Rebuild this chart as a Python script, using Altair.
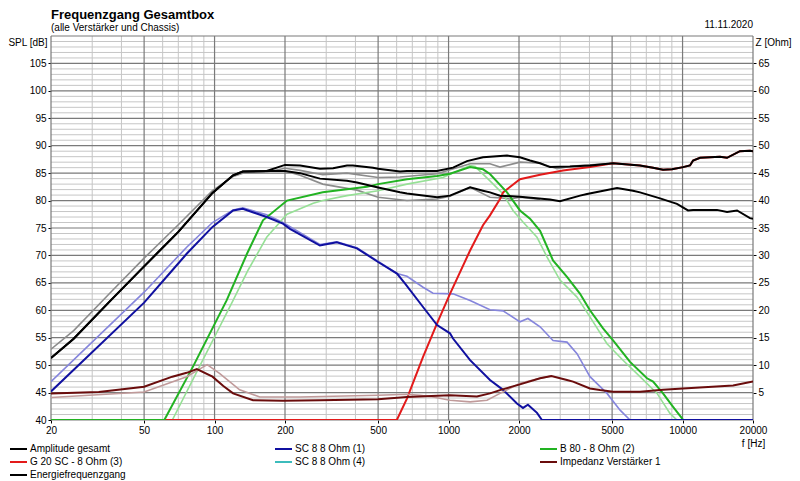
import altair as alt
import pandas as pd

TITLE = "Frequenzgang Gesamtbox"
SUBTITLE = "(alle Verstärker und Chassis)"
DATE = "11.11.2020"

SERIES = ["Amplitude gesamt", "SC 8 8 Ohm (1)", "B 80 - 8 Ohm (2)",
          "G 20 SC - 8 Ohm (3)", "SC 8 8 Ohm (4)", "Impedanz Verstärker 1",
          "Energiefrequenzgang"]
SERIES_COLORS = ["#000000", "#1010a0", "#22b322", "#e31a1a", "#3cbcbc", "#6a0c0c", "#000000"]

REF = ["ref amp", "ref ene", "ref sc", "ref b80", "ref imp"]
REF_COLORS = ["#8c8c8c", "#8c8c8c", "#8585dc", "#96e096", "#c09a9a"]

# frequency (Hz) / SPL (dB) or impedance (Ohm)
AMP_F = [20, 25, 36, 50, 70, 98, 120, 132, 167, 200, 232, 282, 321, 368, 390, 475, 500, 620, 664, 893,
         1045, 1199, 1403, 1503, 1778, 2019, 2229, 2461, 2712, 3304, 4020, 5047, 6577, 7482, 8250, 9020,
         10050, 10760, 11090, 11880, 14450, 15490, 17590, 19410, 20000]
AMP_V = [51.3, 54.8, 61.8, 68.0, 74.3, 81.4, 84.6, 85.3, 85.4, 86.5, 86.4, 85.8, 85.9, 86.4, 86.4, 86.0, 85.8, 85.3, 85.4, 85.4,
         86.0, 87.2, 87.9, 88.0, 88.2, 87.9, 87.3, 86.8, 86.1, 86.2, 86.4, 86.8, 86.4, 86.0, 85.6, 85.7,
         86.1, 86.4, 87.3, 87.8, 88.0, 87.8, 89.0, 89.1, 89.0]

ENE_F = [20, 25, 36, 50, 70, 98, 120, 132, 167, 200, 232, 282, 368, 406, 500, 620, 664, 893, 1014, 1236,
         1403, 1503, 1659, 2019, 2712, 2993, 3648, 3908, 5249, 6140, 6577, 8015, 8836, 9465, 10550, 11090,
         14030, 15490, 17100, 19410, 20000]
ENE_V = [51.3, 54.8, 61.8, 68.0, 74.3, 81.4, 84.6, 85.3, 85.4, 85.4, 85.0, 84.0, 83.6, 83.3, 82.4, 81.5, 81.3, 80.6, 80.9, 82.4,
         81.8, 81.5, 80.9, 80.7, 80.2, 79.9, 80.9, 81.2, 82.3, 81.8, 81.5, 80.4, 79.8, 79.4, 78.2, 78.3,
         78.3, 77.9, 78.2, 76.8, 76.7]

AMPREF_F = [20, 25, 36, 50, 70, 98, 120, 132, 167, 200, 232, 290, 368, 500, 620, 893, 1236, 1503, 1659,
            2019, 2461, 2906, 3404, 5047]
AMPREF_V = [52.9, 56.3, 63.3, 69.5, 75.6, 81.8, 84.4, 85.0, 85.2, 85.9, 85.5, 84.7, 85.0, 84.2, 84.3, 84.9, 86.7, 86.7, 86.1,
            87.0, 86.8, 85.8, 86.3, 86.8]

ENEREF_F = [200, 232, 290, 406, 500, 664, 893, 1014, 1236, 1503, 1659, 1832, 2019, 2461]
ENEREF_V = [85.4, 84.6, 83.0, 81.9, 80.6, 80.0, 80.3, 80.8, 82.4, 80.6, 80.5, 80.3, 80.6, 80.2]

SC_F = [20, 50, 66, 76, 98, 120, 132, 167, 196, 210, 282, 333, 406, 500, 602, 652, 778, 893, 1014, 1045,
        1236, 1503, 1710, 1960, 2080, 2184, 2388, 2507, 20000]
SC_V = [45.2, 61.4, 67.3, 70.3, 75.2, 78.2, 78.5, 77.0, 75.8, 74.85, 71.8, 72.4, 71.3, 68.8, 66.7, 64.85, 60.6, 57.3, 55.8, 54.85,
        50.9, 47.3, 45.5, 43.0, 42.2, 42.8, 41.3, 40.0, 40.0]

SCREF_F = [20, 50, 76, 98, 120, 132, 167, 196, 282, 333, 406, 602, 664, 778, 858, 1045, 1236, 1503, 1710, 2019,
           2184, 2461, 2795, 3207, 3540, 4020, 4755, 5408, 5963]
SCREF_V = [47.0, 63.3, 71.5, 76.0, 78.3, 78.7, 77.4, 76.0, 72.0, 72.5, 71.4, 66.7, 66.2, 64.2, 63.1, 63.0, 61.8, 60.1, 59.9, 57.9,
           58.5, 57.0, 54.5, 54.2, 52.1, 47.9, 44.85, 41.8, 40.0]

B80_F = [20, 61, 81.5, 112.6, 137.6, 161, 204, 290, 448, 500, 664, 893, 1014, 1236, 1403, 1503, 1778, 2019, 2229, 2461,
         2795, 3207, 3648, 4020, 4573, 5047, 5963, 7047, 7482, 8250, 9110, 9950, 10050, 20000]
B80_V = [40, 40, 50.0, 61.8, 70.3, 76.4, 80.0, 81.5, 82.5, 83.0, 83.9, 84.5, 84.9, 86.1, 85.7, 84.85, 81.5, 78.2, 76.7, 74.5,
         69.1, 66.1, 63.0, 60.0, 56.7, 54.5, 50.6, 47.6, 47.0, 44.85, 42.4, 40.3, 40.0, 40.0]

B80REF_F = [66, 120, 139, 167, 204, 264, 290, 368, 500, 664, 946, 1236, 1300, 1503, 1710, 1885, 2080, 2388, 2636, 2993,
            3540, 4020, 4755, 5565, 6577, 7781, 8836, 9465]
B80REF_V = [40, 61.8, 67.3, 73.3, 77.5, 79.5, 80.0, 80.9, 81.8, 83.0, 84.2, 86.4, 86.2, 83.6, 81.2, 78.2, 76.1, 73.3, 69.7, 65.5,
            62.4, 58.8, 53.9, 50.9, 47.9, 44.85, 41.2, 40.0]

G20_F = [20, 601, 664, 778, 893, 1014, 1236, 1403, 1503, 1659, 1710, 2019, 2461, 3084, 4020, 5047, 6577, 7482, 8250, 9020,
         10050, 10760, 11090, 11880, 14450, 15490, 17590, 19410, 20000]
G20_V = [40, 40, 43.9, 51.5, 57.6, 63.0, 70.9, 75.5, 77.3, 80.3, 81.5, 83.9, 84.7, 85.5, 86.1, 86.8, 86.4, 86.0, 85.6, 85.7,
         86.1, 86.4, 87.3, 87.8, 88.0, 87.8, 89.0, 89.1, 89.0]

IMP_F = [20, 32, 50, 66, 76, 84, 98, 109, 120, 146, 196, 282, 500, 664, 1014, 1322, 1503, 1659, 2019, 2461,
         2750, 3207, 3404, 4020, 4438, 5047, 6577, 8250, 10050, 16440, 20000]
IMP_Z = [4.85, 5.1, 6.05, 7.9, 8.6, 9.3, 7.9, 6.2, 4.85, 3.6, 3.5, 3.6, 3.8, 4.2, 4.5, 4.3, 4.85, 5.45, 6.5, 7.6,
         8.0, 7.3, 7.0, 5.75, 5.45, 5.15, 5.15, 5.5, 5.75, 6.3, 7.0]

IMPREF_F = [20, 50, 76, 93, 105, 128, 156, 232, 500, 664, 755, 858, 1014, 1236, 1460, 1659, 2019, 2461, 2750]
IMPREF_Z = [4.1, 5.1, 7.9, 10.1, 8.5, 5.5, 4.2, 4.2, 4.5, 4.7, 4.5, 4.2, 3.6, 3.3, 3.6, 4.85, 6.7, 7.6, 8.0]

X_TICKS = [20, 50, 100, 200, 500, 1000, 2000, 5000, 10000, 20000]
X_MINOR = [30, 40, 60, 70, 80, 90, 300, 400, 600, 700, 800, 900, 3000, 4000, 6000, 7000, 8000, 9000]
Y_MAJOR = list(range(40, 111, 5))
Y_MINOR = [v for v in range(40, 111) if v % 5]
SPL_TICKS = list(range(40, 106, 5))
Z_TICKS = list(range(5, 66, 5))

FONT = "Liberation Sans"
W, H = 702, 384

xscale = alt.Scale(type="log", domain=[20, 20000], nice=False)
yscale = alt.Scale(domain=[40, 110], nice=False, zero=False)
zscale = alt.Scale(domain=[0, 70], nice=False, zero=False)

xaxis = alt.Axis(values=X_TICKS, format="d", title="f [Hz]", grid=False, domain=False,
                 tickSize=3, tickColor="#000", labelFontSize=10, labelColor="#000",
                 labelPadding=2, labelFlush=False, labelOverlap=False,
                 titleX=W, titleY=23, titleAlign="center", titleBaseline="middle",
                 titleFontSize=10, titleFontWeight="normal", titleColor="#000")
yaxis = alt.Axis(values=SPL_TICKS, title="SPL [dB]", grid=False, domain=False,
                 tickSize=3, tickColor="#000", labelFontSize=10, labelColor="#000",
                 labelPadding=2, labelFlush=False,
                 titleAngle=0, titleX=-4, titleY=6, titleAlign="right", titleBaseline="middle",
                 titleFontSize=10, titleFontWeight="normal", titleColor="#000")
zaxis = alt.Axis(values=Z_TICKS, title="Z [Ohm]", orient="right", grid=False, domain=False,
                 tickSize=3, tickColor="#000", labelFontSize=10, labelColor="#000",
                 labelPadding=2, labelFlush=False,
                 titleAngle=0, titleX=2, titleY=6, titleAlign="left", titleBaseline="middle",
                 titleFontSize=10, titleFontWeight="normal", titleColor="#000")

X = alt.X("f:Q", scale=xscale, axis=xaxis)

legend = alt.Legend(title=None, orient="none", legendX=-38.5, legendY=407, columns=3,
                    direction="horizontal",
                    gridAlign="all", columnPadding=139, rowPadding=2, padding=0,
                    symbolType="M-1.7,0H1.7", symbolSize=100, symbolStrokeWidth=2,
                    labelFontSize=10, labelColor="#000", labelOffset=5.5, labelLimit=300)
COLOR = alt.Color("s:N", scale=alt.Scale(domain=SERIES, range=SERIES_COLORS), legend=legend)
STROKE = alt.Stroke("s:N", scale=alt.Scale(domain=REF, range=REF_COLORS), legend=None)


def frame(f, v, name):
    return pd.DataFrame({"f": f, "v": v, "s": name})


def main_line(f, v, name, y, width=2.0):
    return alt.Chart(frame(f, v, name)).mark_line(strokeWidth=width, clip=True).encode(
        x=X, y=y, color=COLOR)


def ref_line(f, v, name, y, width=1.6):
    return alt.Chart(frame(f, v, name)).mark_line(strokeWidth=width, clip=True).encode(
        x=X, y=y, stroke=STROKE)


Y_SPL = alt.Y("v:Q", scale=yscale, axis=yaxis)
Y_Z = alt.Y("v:Q", scale=zscale, axis=zaxis)

grid_x_minor = alt.Chart(pd.DataFrame({"f": X_MINOR})).mark_rule(color="#c6c6c6", strokeWidth=1).encode(x=X)
grid_y_minor = alt.Chart(pd.DataFrame({"v": Y_MINOR})).mark_rule(color="#c6c6c6", strokeWidth=1).encode(y=Y_SPL)
grid_x_major = alt.Chart(pd.DataFrame({"f": X_TICKS})).mark_rule(color="#7a7a7a", strokeWidth=1.2).encode(x=X)
grid_y_major = alt.Chart(pd.DataFrame({"v": Y_MAJOR})).mark_rule(color="#7a7a7a", strokeWidth=1.2).encode(y=Y_SPL)

date_text = alt.Chart(pd.DataFrame({"t": [DATE]})).mark_text(
    align="right", baseline="middle", fontSize=10, font=FONT, color="#000").encode(
    text="t:N", x=alt.value(W), y=alt.value(-11))

spl = alt.layer(
    grid_y_minor, grid_x_minor, grid_y_major, grid_x_major,
    ref_line(AMPREF_F, AMPREF_V, "ref amp", Y_SPL),
    ref_line(ENEREF_F, ENEREF_V, "ref ene", Y_SPL),
    ref_line(SCREF_F, SCREF_V, "ref sc", Y_SPL),
    ref_line(B80REF_F, B80REF_V, "ref b80", Y_SPL),
    main_line(G20_F, G20_V, SERIES[3], Y_SPL),
    main_line(B80_F, B80_V, SERIES[2], Y_SPL),
    main_line(SC_F, SC_V, SERIES[1], Y_SPL),
    main_line(ENE_F, ENE_V, SERIES[6], Y_SPL),
    main_line(AMP_F, AMP_V, SERIES[0], Y_SPL),
    date_text,
)

imp = alt.layer(
    ref_line(IMPREF_F, IMPREF_Z, "ref imp", Y_Z),
    main_line(IMP_F, IMP_Z, SERIES[5], Y_Z),
)

chart = alt.layer(spl, imp).resolve_scale(y="independent").properties(
    width=W, height=H,
    title=alt.TitleParams(text=TITLE, subtitle=SUBTITLE, anchor="start", frame="group",
                          fontSize=13, fontWeight="bold", font=FONT, color="#000",
                          subtitleFontSize=10, subtitleFont=FONT, subtitleColor="#000",
                          subtitlePadding=1, offset=-13),
    padding={"left": 43, "top": 28, "right": 39, "bottom": 60},
    autosize="none",
).configure(font=FONT, background="white").configure_view(stroke=None)

chart.save("out.html", embed_options={"renderer": "svg", "actions": False})
